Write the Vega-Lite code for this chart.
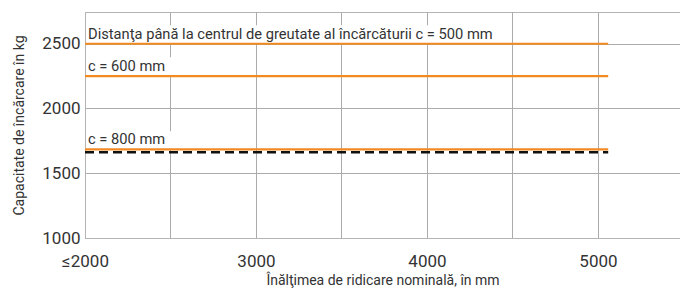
{
  "$schema": "https://vega.github.io/schema/vega-lite/v6.json",
  "width": 595,
  "height": 226,
  "autosize": "none",
  "padding": {"left": 85, "top": 12, "right": 0, "bottom": 53},
  "background": "white",
  "config": {
    "font": "Roboto",
    "view": {"stroke": "#b4b4b4", "strokeWidth": 1},
    "axis": {
      "ticks": false,
      "grid": true,
      "gridColor": "#ababab",
      "gridWidth": 1,
      "domainColor": "#b4b4b4",
      "labelFont": "Roboto",
      "labelFontSize": 17,
      "labelColor": "#333333",
      "labelOverlap": false,
      "labelFlush": false,
      "titleFont": "Roboto",
      "titleFontSize": 14,
      "titleFontWeight": "normal",
      "titleColor": "#333333"
    }
  },
  "datasets": {
    "boxes": [
      {"x0": 2012, "x1": 4400, "y0": 2502, "y1": 2643},
      {"x0": 2012, "x1": 2540, "y0": 2252, "y1": 2395},
      {"x0": 2012, "x1": 2550, "y0": 1687, "y1": 1824}
    ],
    "lines": [
      {"curve": "c = 500 mm", "kind": "capacity", "x0": 2000, "x1": 5060, "y0": 2500},
      {"curve": "c = 600 mm", "kind": "capacity", "x0": 2000, "x1": 5060, "y0": 2250},
      {"curve": "c = 800 mm", "kind": "capacity", "x0": 2000, "x1": 5060, "y0": 1685},
      {"curve": "limit", "kind": "limit", "x0": 2000, "x1": 5060, "y0": 1662}
    ],
    "labels": [
      {"text": "Distanţa până la centrul de greutate al încărcăturii c = 500 mm", "x0": 2000, "y0": 2500},
      {"text": "c = 600 mm", "x0": 2000, "y0": 2250},
      {"text": "c = 800 mm", "x0": 2000, "y0": 1685}
    ]
  },
  "layer": [
    {
      "data": {"name": "boxes"},
      "mark": {"type": "rect", "color": "white"},
      "encoding": {
        "x": {
          "field": "x0", "type": "quantitative",
          "scale": {"domain": [2000, 5480], "nice": false, "zero": false},
          "axis": {
            "title": "Înălţimea de ridicare nominală, în mm",
            "values": [2000, 2500, 3000, 3500, 4000, 4500, 5000],
            "labelExpr": "datum.value % 1000 === 0 ? (datum.value === 2000 ? '≤2000' : format(datum.value, 'd')) : ''",
            "labelPadding": 15,
            "titlePadding": 4
          }
        },
        "x2": {"field": "x1"},
        "y": {
          "field": "y0", "type": "quantitative",
          "scale": {"domain": [1000, 2745], "nice": false, "zero": false},
          "axis": {
            "title": "Capacitate de încărcare în kg",
            "values": [1000, 1250, 1500, 1750, 2000, 2250, 2500],
            "labelExpr": "datum.value % 500 === 0 ? format(datum.value, 'd') : ''",
            "labelPadding": 5,
            "titlePadding": 15
          }
        },
        "y2": {"field": "y1"}
      }
    },
    {
      "data": {"name": "lines"},
      "transform": [{"filter": "datum.kind === 'limit'"}],
      "mark": {"type": "rule", "color": "#111111", "strokeWidth": 2.5, "strokeDash": [9, 5]},
      "encoding": {
        "x": {"field": "x0", "type": "quantitative"},
        "x2": {"field": "x1"},
        "y": {"field": "y0", "type": "quantitative"}
      }
    },
    {
      "data": {"name": "lines"},
      "transform": [{"filter": "datum.kind === 'capacity'"}],
      "mark": {"type": "rule", "color": "#f28a22", "strokeWidth": 2.2},
      "encoding": {
        "x": {"field": "x0", "type": "quantitative"},
        "x2": {"field": "x1"},
        "y": {"field": "y0", "type": "quantitative"}
      }
    },
    {
      "data": {"name": "labels"},
      "mark": {"type": "text", "align": "left", "baseline": "alphabetic", "dx": 3, "dy": -5, "fontSize": 14.7, "color": "#333333", "font": "Roboto"},
      "encoding": {
        "x": {"field": "x0", "type": "quantitative"},
        "y": {"field": "y0", "type": "quantitative"},
        "text": {"field": "text"}
      }
    }
  ]
}
